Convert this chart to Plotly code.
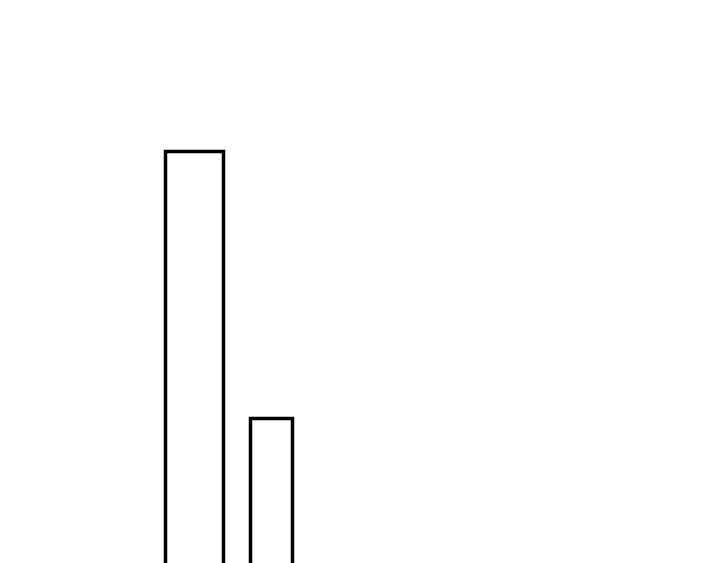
import plotly.graph_objs as go

# bar positions / widths / heights
positions = [186.5, 263.5]
widths = [58, 42]
values = [10, 4]

fig = go.Figure([
    go.Bar(
        x=positions,
        y=values,
        width=widths,
        marker=dict(color="white", line=dict(color="black", width=3.5)),
        showlegend=False,
        hoverinfo="skip"
    )
])

fig.update_layout(
    width=720,
    height=563,
    margin=dict(l=0, r=0, t=0, b=0),
    paper_bgcolor="white",
    plot_bgcolor="white",
    xaxis=dict(range=[0, 720], visible=False, fixedrange=True),
    yaxis=dict(range=[0.573, 13.225], visible=False, fixedrange=True)
)

fig.write_html("out.html")
